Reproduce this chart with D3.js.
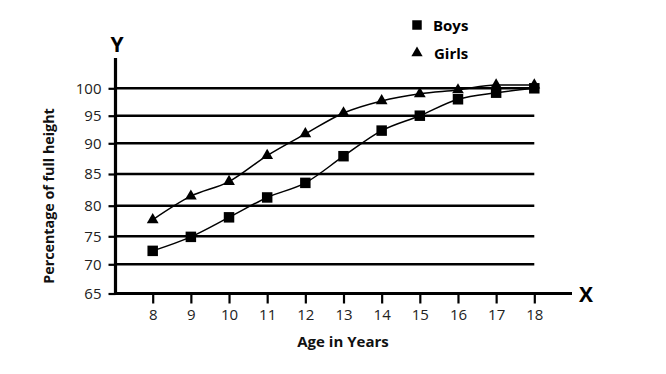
<!DOCTYPE html>
<html><head><meta charset="utf-8">
<script src="https://cdn.jsdelivr.net/npm/d3@7"></script>
<style>body{margin:0;background:#fff}svg{display:block;font-family:"Open Sans",sans-serif}</style>
</head><body><svg id="c" width="666" height="374"></svg>
<script>
const ages = [8,9,10,11,12,13,14,15,16,17,18];
const boys = [72.4,74.9,78.1,81.3,83.6,87.9,92.3,95.0,98.0,99.2,100];
const girls = [77.7,81.5,83.8,88.0,91.7,95.5,97.7,99.0,99.7,100.6,100.6];
const yTicks = [65,70,75,80,85,90,95,100];
const xLabel = "Age in Years", yLabel = "Percentage of full height";
const legendNames = ["Boys","Girls"];

const svg = d3.select("#c");
const x = d3.scaleLinear().domain([8,18]).range([152.7,534.3]);
const y = d3.scaleLinear().domain(yTicks).range([293.5,264.3,236.3,205.7,174,143.3,115.7,88.3]);
const x0 = 115.5;

// gridlines
svg.append("g").selectAll("line").data(yTicks.slice(1)).join("line")
  .attr("x1",x0).attr("x2",x(18)).attr("y1",d=>y(d)).attr("y2",d=>y(d))
  .attr("stroke","#000").attr("stroke-width",2.6);

// y axis
const ya = svg.append("g").attr("transform",`translate(${x0},0)`)
  .call(d3.axisLeft(y).tickValues(yTicks).tickSize(7).tickPadding(7));
ya.select(".domain").remove();
ya.selectAll(".tick line").attr("stroke","#000").attr("stroke-width",2.2);
ya.selectAll(".tick text").attr("font-size",15).attr("fill","#222").attr("font-family","Open Sans");
svg.append("line").attr("x1",x0).attr("x2",x0).attr("y1",58).attr("y2",y(65)+1.5)
  .attr("stroke","#000").attr("stroke-width",3.2);

// x axis
const xa = svg.append("g").attr("transform",`translate(0,${y(65)})`)
  .call(d3.axisBottom(x).tickValues(ages).tickSize(10).tickPadding(6));
xa.select(".domain").remove();
xa.selectAll(".tick line").attr("stroke","#000").attr("stroke-width",2.2);
xa.selectAll(".tick text").attr("font-size",15).attr("fill","#222").attr("font-family","Open Sans");
svg.append("line").attr("x1",x0-1.5).attr("x2",572).attr("y1",y(65)).attr("y2",y(65))
  .attr("stroke","#000").attr("stroke-width",3.2);

// axis letters
svg.append("text").attr("x",117).attr("y",52).attr("text-anchor","middle")
  .attr("font-size",21).attr("font-weight",700).text("Y");
svg.append("text").attr("x",586).attr("y",302).attr("text-anchor","middle")
  .attr("font-size",21).attr("font-weight",700).text("X");

// titles
svg.append("text").attr("x",343).attr("y",347).attr("text-anchor","middle")
  .attr("font-size",15).attr("font-weight",700).attr("fill","#111").text(xLabel);
svg.append("text").attr("transform","translate(54,196) rotate(-90)").attr("text-anchor","middle")
  .attr("font-size",14.3).attr("font-weight",700).attr("fill","#111").text(yLabel);

// lines
const line = d3.line().x((d,i)=>x(ages[i])).y(d=>y(d)).curve(d3.curveMonotoneX);
[girls,boys].forEach(s=>svg.append("path").attr("d",line(s)).attr("fill","none")
  .attr("stroke","#000").attr("stroke-width",1.5));

const tri = d3.symbol().type(d3.symbolTriangle).size(60);
const sq = d3.symbol().type(d3.symbolSquare).size(110);
svg.append("g").selectAll("path").data(girls).join("path")
  .attr("transform",(d,i)=>`translate(${x(ages[i])},${y(d)})`).attr("d",tri).attr("fill","#000");
svg.append("g").selectAll("path").data(boys).join("path")
  .attr("transform",(d,i)=>`translate(${x(ages[i])},${y(d)})`).attr("d",sq).attr("fill","#000");

// legend
const lg = svg.append("g");
lg.append("path").attr("transform","translate(417,25)").attr("d",d3.symbol().type(d3.symbolSquare).size(90)).attr("fill","#000");
lg.append("path").attr("transform","translate(417,53)").attr("d",d3.symbol().type(d3.symbolTriangle).size(55)).attr("fill","#000");
lg.append("text").attr("x",433).attr("y",30.5).attr("font-size",15).attr("font-weight",700).text(legendNames[0]);
lg.append("text").attr("x",434).attr("y",58.5).attr("font-size",15).attr("font-weight",700).text(legendNames[1]);
</script></body></html>
